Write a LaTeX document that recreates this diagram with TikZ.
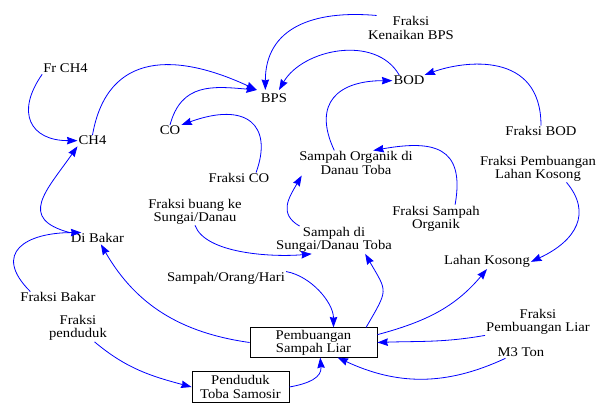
\documentclass[tikz,border=0pt]{standalone}
\usepackage{fontspec}
\setmainfont{Liberation Serif}[FakeStretch=1.1]
\usetikzlibrary{arrows.meta}

\begin{document}
\begin{tikzpicture}[x=1pt,y=1pt,
  lbl/.style={inner sep=1pt, font=\fontsize{13.3}{13.3}\selectfont},
  multi/.style={lbl, align=center},
  stock/.style={draw, line width=0.8pt, inner sep=2pt, align=center,
    font=\fontsize{13.3}{13.3}\selectfont},
  link/.style={draw=blue, line width=0.8pt,
    -{Stealth[length=10.5pt,width=7.5pt,inset=1pt]}},
]
\useasboundingbox (0,0) rectangle (597,404);

% variables
\node[multi] (fkbps) at (411,376) {Fraksi\\Kenaikan BPS};
\node[lbl,anchor=base] (frch4) at (65.5,331) {Fr CH4};
\node[lbl,anchor=base,inner sep=4pt] (bps) at (274,301) {BPS};
\node[lbl,anchor=base] (bod) at (409,319) {BOD};
\node[lbl,anchor=base] (co) at (170,269) {CO};
\node[lbl,anchor=base] (ch4) at (92.5,259) {CH4};
\node[lbl,anchor=base] (fbod) at (541,268) {Fraksi BOD};
\node[multi] (sodt) at (356,241) {Sampah Organik di\\Danau Toba};
\node[multi] (fplk) at (538,235.5) {Fraksi Pembuangan\\Lahan Kosong};
\node[lbl,anchor=base] (fco) at (239,221) {Fraksi CO};
\node[multi] (fbks) at (195,192.5) {Fraksi buang ke\\Sungai/Danau};
\node[multi] (fso) at (436,185.5) {Fraksi Sampah\\Organik};
\node[multi] (sdst) at (334,164) {Sampah di\\Sungai/Danau Toba};
\node[lbl,anchor=base] (dibakar) at (97.5,161) {Di Bakar};
\node[lbl,anchor=base] (lk) at (487,139) {Lahan Kosong};
\node[lbl,anchor=base] (soh) at (226,122) {Sampah/Orang/Hari};
\node[lbl,anchor=base] (fbakar) at (58,102) {Fraksi Bakar};
\node[multi] (fpend) at (78,76) {Fraksi\\penduduk};
\node[multi] (fpl) at (538,82.5) {Fraksi\\Pembuangan Liar};
\node[lbl,anchor=base] (m3) at (521,47) {M3 Ton};

% stocks
\node[stock, minimum width=127pt, minimum height=29pt] (pem) at (313.5,61.5) {Pembuangan\\Sampah Liar};
\node[stock, minimum width=97pt, minimum height=31pt] (pen) at (240.5,17) {Penduduk\\Toba Samosir};

% links
\draw[link] (frch4.south west) to[out=235,in=180,looseness=1.6] (ch4.west);
\draw[link] (dibakar.north west) to[out=165,in=235,looseness=1.6] (ch4.south west);
\draw[link] (ch4.north) to[out=80,in=155,looseness=1.3] (bps.north west);
\draw[link] (co.north) to[out=75,in=175,looseness=1.2] (bps.north west);
\draw[link] (fkbps.160) to[out=175,in=90,looseness=1.2] (bps.135);
\draw[link] (bod.150) to[out=120,in=60] (bps.60);
\draw[link] (sodt.150) to[out=115,in=180,looseness=1.5] (bod.west);
\draw[link] (fbod.north) to[out=90,in=20,out distance=75pt,in distance=42pt] (bod.20);
\draw[link] (fco.19) to[out=70,in=20,out distance=50pt,in distance=70pt] (co.north east);
\draw[link] (fso.36) to[out=80,in=10,out distance=60pt,in distance=60pt] (sodt.36);
\draw[link] (sdst.158) to[out=150,in=240,distance=25pt] (sodt.193);
\draw[link] (fbks.south) to[out=-70,in=185,out distance=30pt,in distance=40pt] (sdst.212);
\draw[link] (soh.north east) to[out=-10,in=90,distance=25pt] (pem.37);
\draw[link] (pem.16) to[out=60,in=-60,distance=45pt] (sdst.-24);
\draw[link] (pem.7) to[out=15,in=230] (lk.south);
\draw[link] (fplk.-26) to[out=-50,in=25,out distance=40pt,in distance=50pt] (lk.east);
\draw[link] (fpl.south west) to[out=190,in=2] (pem.east);
\draw[link] (m3.200) to[out=-155,in=-25] (pem.-32);
\draw[link] (pen.east) to[out=10,in=-85,distance=20pt] (pem.-66);
\draw[link] (fpend.-40) to[out=-40,in=165] (pen.west);
\draw[link] (pem.west) to[out=172,in=-60] (dibakar.-60);
\draw[link] (fbakar.168) to[out=135,in=180,distance=55pt] (dibakar.160);
\end{tikzpicture}
\end{document}
